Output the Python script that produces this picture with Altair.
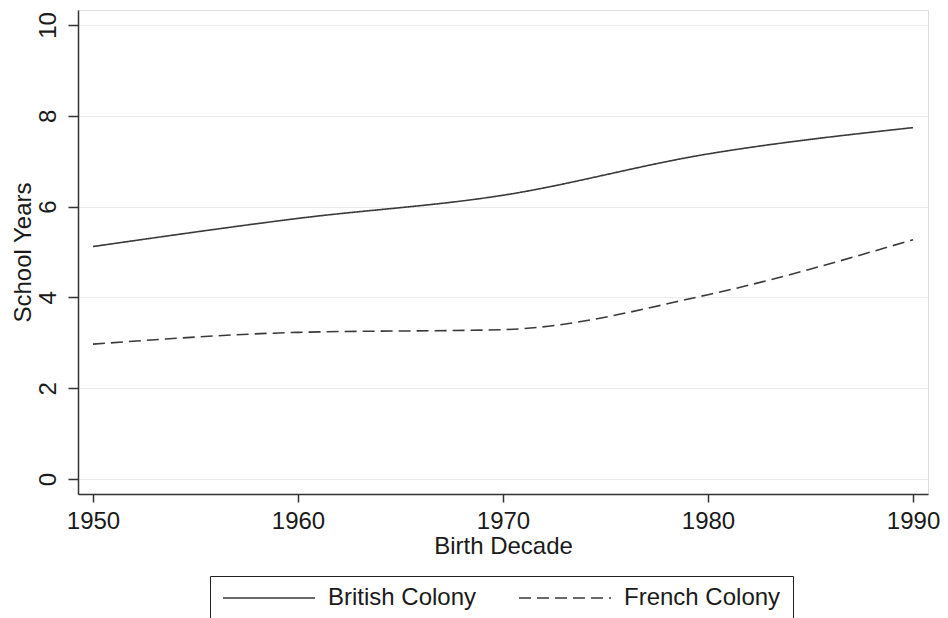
import altair as alt
import pandas as pd

decades = [1950, 1960, 1970, 1980, 1990]
british = [5.12, 5.74, 6.25, 7.16, 7.74]
french = [2.97, 3.23, 3.29, 4.06, 5.27]
series_names = ["British Colony", "French Colony"]
x_ticks = [1950, 1960, 1970, 1980, 1990]
y_ticks = [0, 2, 4, 6, 8, 10]

rows = []
for name, vals in zip(series_names, [british, french]):
    for d, v in zip(decades, vals):
        rows.append({"decade": d, "years": v, "colony": name})
df = pd.DataFrame(rows)

FONT = "Liberation Sans"
TXT = "#1a1a1a"
FS = 24
W = 850

chart = alt.Chart(df).mark_line(
    color="#3a3a3a", strokeWidth=1.6, interpolate="monotone"
).encode(
    x=alt.X(
        "decade:Q",
        scale=alt.Scale(domain=[1949.27, 1990.73], nice=False, zero=False),
        axis=alt.Axis(
            values=x_ticks, format="d", title="Birth Decade", grid=False,
            labelFontSize=FS, titleFontSize=FS, labelFont=FONT, titleFont=FONT,
            labelColor=TXT, titleColor=TXT, titleFontWeight="normal",
            tickSize=8, tickColor="#333", tickWidth=1.5,
            domainColor="#333", domainWidth=1.5,
            labelBaseline="alphabetic", labelPadding=26, labelFlush=False,
            titleBaseline="alphabetic", titleX=W / 2, titleY=59, titleAlign="center",
        ),
    ),
    y=alt.Y(
        "years:Q",
        scale=alt.Scale(domain=[-0.33, 10.33], nice=False, zero=False),
        axis=alt.Axis(
            values=y_ticks, title="School Years", grid=True,
            gridColor="#ebebeb", gridWidth=1.2,
            labelFontSize=FS, titleFontSize=FS, labelFont=FONT, titleFont=FONT,
            labelColor=TXT, titleColor=TXT, titleFontWeight="normal",
            labelAngle=270, labelAlign="center", labelBaseline="alphabetic",
            tickSize=10, tickColor="#333", tickWidth=1.5,
            domainColor="#333", domainWidth=1.5,
            labelPadding=13, labelFlush=False,
            titleAngle=270, titleBaseline="alphabetic", titleAlign="center",
            titleX=-48, titleY=242,
        ),
    ),
    strokeDash=alt.StrokeDash(
        "colony:N",
        scale=alt.Scale(domain=series_names, range=[[1, 0], [12, 6]]),
        legend=alt.Legend(
            title=None, orient="none", legendX=132, legendY=566,
            direction="horizontal", strokeColor="#222", fillColor="white",
            padding=12, symbolType="stroke", symbolSize=8464,
            symbolStrokeWidth=1.5, symbolStrokeColor="#3a3a3a",
            labelFontSize=FS, labelFont=FONT, labelColor=TXT,
            labelOffset=12, columnPadding=41, cornerRadius=0,
            clipHeight=20,
        ),
    ),
).properties(
    width=W, height=484,
    autosize=alt.AutoSizeParams(type="none"),
    padding={"left": 70, "top": 2, "right": 12, "bottom": 126},
).configure_view(stroke=None).configure(background="white")

chart.save("out.html", embed_options={"renderer": "svg", "actions": False})
